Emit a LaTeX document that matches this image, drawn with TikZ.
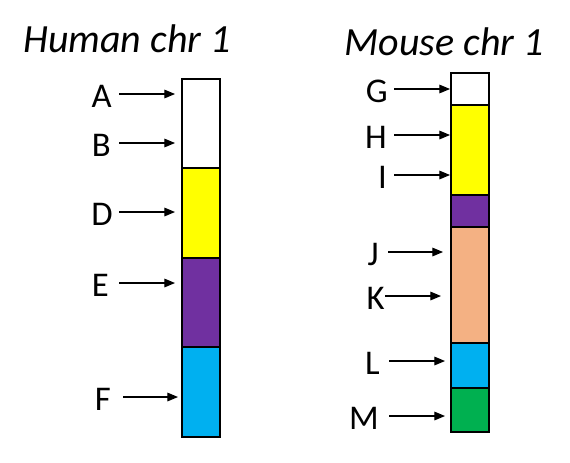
\documentclass[tikz,border=0pt]{standalone}
\usepackage{fontspec}
\setmainfont{Carlito}
\usetikzlibrary{arrows.meta, positioning}

\definecolor{bandYellow}{HTML}{FFFF00}
\definecolor{bandPurple}{HTML}{7030A0}
\definecolor{bandBlue}{HTML}{00B0F0}
\definecolor{bandPeach}{HTML}{F4B183}
\definecolor{bandGreen}{HTML}{00B050}

\tikzset{
  chrtitle/.style={font=\fontsize{30}{35}\selectfont\itshape, inner sep=0pt, anchor=base},
  bandlabel/.style={font=\fontsize{26}{31}\selectfont, inner ysep=0pt, anchor=east, yshift=-1.5pt},
  band/.style={draw=black, line width=1.6pt},
  pointer/.style={-{Triangle[length=8pt, width=6.5pt]}, line width=0.8pt}
}

\begin{document}
\begin{tikzpicture}[x=0.75pt, y=-0.75pt]
\useasboundingbox (0,0) rectangle (570,462);

% Titles
\node[chrtitle] (humanTitle) at (127,52) {Human chr 1};
\node[chrtitle] (mouseTitle) at (444,55) {Mouse chr 1};

% Human chromosome bands
\foreach \top/\bot/\col in {79/168/white, 168/258/bandYellow, 258/347/bandPurple, 347/437/bandBlue} {
    \draw[band, fill=\col] (182,\top) rectangle (220,\bot);
}

% Mouse chromosome bands
\foreach \top/\bot/\col in {73/105/white, 105/195/bandYellow, 195/227/bandPurple, 227/343/bandPeach, 343/388/bandBlue, 388/432/bandGreen} {
    \draw[band, fill=\col] (451,\top) rectangle (489,\bot);
}

% Human labels and pointers
\foreach \n/\ys/\xs/\xe/\gap in {A/94/119/175/7, B/143/119/175/8, D/212/119/175/6, E/283/119/175/10, F/397/123/178/12} {
    \node[bandlabel, inner xsep=\gap*0.75pt] (\n) at (\xs,\ys) {\n};
    \coordinate (\n tip) at (\xe,\ys);
    \draw[pointer] (\n.east |- \n tip) -- (\n tip);
}

% Mouse labels and pointers
\foreach \n/\ys/\xs/\xe/\gap in {G/89/394/450/6, H/135/394/450/7, I/175/394/450/7, J/252/388/443/9, K/296/385/441/0, L/361/389/445/9, M/416/389/445/10} {
    \node[bandlabel, inner xsep=\gap*0.75pt] (\n) at (\xs,\ys) {\n};
    \coordinate (\n tip) at (\xe,\ys);
    \draw[pointer] (\n.east |- \n tip) -- (\n tip);
}
\end{tikzpicture}
\end{document}
